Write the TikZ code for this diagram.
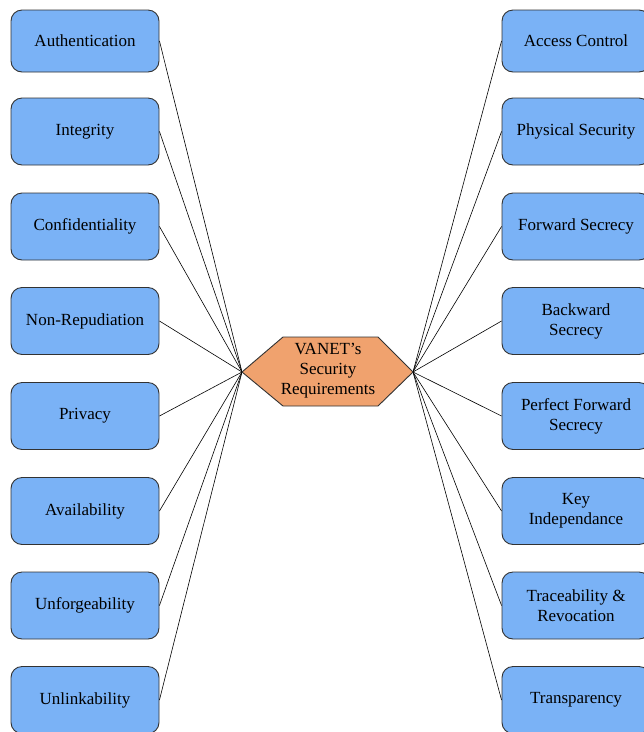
\documentclass[tikz,border=0pt]{standalone}
\usepackage{fontspec}
\setmainfont{Liberation Serif}
\definecolor{boxblue}{RGB}{122,178,246}
\definecolor{hexorange}{RGB}{240,162,110}
\definecolor{edgegray}{RGB}{50,50,50}
\tikzset{
  req/.style={draw=edgegray, line width=0.9pt, fill=boxblue, rounded corners=11pt,
    minimum width=148pt, minimum height=67pt, align=center, font=\fontsize{17}{20}\selectfont, inner sep=0pt},
  link/.style={draw=black, line width=0.6pt}
}
\begin{document}
\begin{tikzpicture}[x=1pt,y=-1pt]
\useasboundingbox (0,0) rectangle (644,732);
\coordinate (hl) at (242,372);
\coordinate (hr) at (413,372);
% left boxes
\node[req, minimum height=62pt] (l1) at (85,41) {Authentication};
\draw[link] (l1.east) -- (hl);
\foreach \n/\t/\yy in {l2/Integrity/131.5, l3/Confidentiality/226.5, l4/Non-Repudiation/321, l5/Privacy/416, l6/Availability/511, l7/Unforgeability/605.5, l8/Unlinkability/700}{
  \node[req] (\n) at (85,\yy) {\t};
  \draw[link] (\n.east) -- (hl);
}
\node[req, minimum height=62pt] (r1) at (576,41) {Access Control};
\draw[link] (r1.west) -- (hr);
\foreach \n/\t/\yy in {r2/Physical Security/131.5, r3/Forward Secrecy/226.5, r4/{Backward\\Secrecy}/321, r5/{Perfect Forward\\Secrecy}/416, r6/{Key\\Independance}/511, r7/{Traceability \&\\Revocation}/605.5, r8/Transparency/700}{
  \node[req] (\n) at (576,\yy) {\t};
  \draw[link] (\n.west) -- (hr);
}
\draw[edgegray, line width=0.9pt, fill=hexorange] (242,372) -- (283,337) -- (378,337) -- (413,372) -- (378,406) -- (283,406) -- cycle;
\node[align=center, font=\fontsize{17}{20}\selectfont, inner sep=0pt] (hex) at (328,371) {VANET's\\Security\\Requirements};
\end{tikzpicture}
\end{document}
